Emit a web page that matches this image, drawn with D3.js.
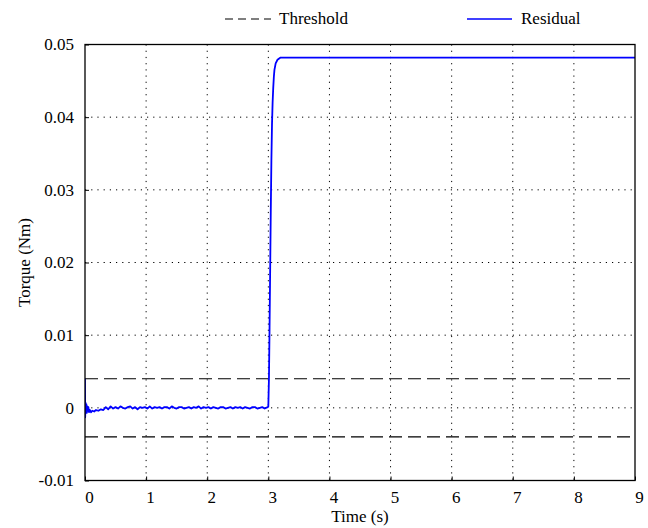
<!DOCTYPE html>
<html>
<head>
<meta charset="utf-8">
<script src="https://cdn.jsdelivr.net/npm/d3@7"></script>
<style>
  body { margin: 0; background: #fff; }
  text { font-family: "Liberation Serif", "Times New Roman", serif; fill: #000; }
</style>
</head>
<body>
<div id="chart"></div>
<script>
const width = 648;
const height = 528;
const margin = { top: 44.5, right: 13, bottom: 47.5, left: 85 };
const serif = "'Liberation Serif', 'Times New Roman', serif";

// axis ticks
const xTicks = [0, 1, 2, 3, 4, 5, 6, 7, 8, 9];
const yTicks = [-0.01, 0, 0.01, 0.02, 0.03, 0.04, 0.05];
const thresholds = [0.004, -0.004];

// residual samples (s, Nm)
const residualT = [
    0, 0.003, 0.008, 0.015, 0.022, 0.03, 0.038, 0.046, 0.055, 0.065, 0.08, 0.1,
    0.12, 0.15, 0.18, 0.22, 0.26, 0.3, 0.34, 0.38, 0.42, 0.46,
    0.5, 0.54, 0.58, 0.62, 0.66, 0.7, 0.74, 0.78, 0.82, 0.86, 0.9, 0.94, 0.98,
    1.02, 1.06, 1.1, 1.14, 1.18, 1.22, 1.26, 1.3, 1.34, 1.38, 1.42, 1.46,
    1.5, 1.54, 1.58, 1.62, 1.66, 1.7, 1.74, 1.78, 1.82, 1.86, 1.9, 1.94, 1.98,
    2.02, 2.06, 2.1, 2.14, 2.18, 2.22, 2.26, 2.3, 2.34, 2.38, 2.42, 2.46,
    2.5, 2.54, 2.58, 2.62, 2.66, 2.7, 2.74, 2.78, 2.82, 2.86, 2.9, 2.94,
    2.99, 3.0, 3.01, 3.02, 3.03, 3.04, 3.05, 3.06, 3.07, 3.08, 3.09, 3.1,
    3.12, 3.15, 3.2, 9
];
const residualV = [
    0.004, -0.0013, 0.0007, -0.0005, 0.0005, -0.0007, 0.0002, -0.0004, 0.0001, -0.0006, -0.0003, -0.0006,
    -0.0004, -0.0005, -0.0003, -0.0004, -0.0002, -0.0003, 0.0001, -0.0002, 0.0002, -0.0001,
    0.0001, -0.0001, 0.0002, 0.0000, -0.0001, 0.0001, 0.0002, -0.0001, 0.0001, -0.0002, 0.0001, 0.0000, 0.0001,
    -0.0001, 0.0002, -0.0001, 0.0001, 0.0000, 0.0001, -0.0001, 0.0001, 0.0001, -0.0001, 0.0002, 0.0000,
    -0.0001, 0.0001, 0.0001, -0.0001, 0.0000, 0.0001, -0.0001, 0.0001, 0.0000, 0.0002, -0.0001, 0.0001, 0.0000,
    0.0001, -0.0001, 0.0001, 0.0000, -0.0001, 0.0001, 0.0001, -0.0001, 0.0000, 0.0001, -0.0001, 0.0001,
    0.0000, 0.0001, -0.0001, 0.0001, 0.0000, -0.0001, 0.0001, 0.0001, -0.0001, 0.0000, 0.0001, -0.0001,
    0.0001, 0.0002, 0.004, 0.011, 0.019, 0.027, 0.034, 0.039, 0.042, 0.044, 0.0455, 0.0465,
    0.0474, 0.0479, 0.0482, 0.0482
];

const legendLabels = ["Threshold", "Residual"];

const iw = width - margin.left - margin.right;
const ih = height - margin.top - margin.bottom;

const svg = d3.select("#chart")
    .append("svg")
    .attr("width", width)
    .attr("height", height);

const x = d3.scaleLinear().domain([0, 9]).range([margin.left, margin.left + iw]);
const y = d3.scaleLinear().domain([-0.01, 0.05]).range([margin.top + ih, margin.top]);

svg.append("defs").append("clipPath")
    .attr("id", "plot-clip")
    .append("rect")
    .attr("x", margin.left)
    .attr("y", margin.top)
    .attr("width", iw)
    .attr("height", ih);

// Grid
svg.append("g")
    .selectAll("line")
    .data(xTicks.slice(1, -1))
    .enter()
    .append("line")
    .attr("x1", d => x(d))
    .attr("x2", d => x(d))
    .attr("y1", margin.top)
    .attr("y2", margin.top + ih)
    .attr("stroke", "#000")
    .attr("stroke-width", 1)
    .attr("stroke-dasharray", "1.2,5");

svg.append("g")
    .selectAll("line")
    .data(yTicks.slice(1, -1))
    .enter()
    .append("line")
    .attr("x1", margin.left)
    .attr("x2", margin.left + iw)
    .attr("y1", d => y(d))
    .attr("y2", d => y(d))
    .attr("stroke", "#000")
    .attr("stroke-width", 1)
    .attr("stroke-dasharray", "1.2,5");

// Axes (inward ticks)
const fmtY = d => d === 0 ? "0" : d.toFixed(2);

svg.append("g")
    .attr("transform", "translate(0," + (margin.top + ih) + ")")
    .call(d3.axisBottom(x).tickValues(xTicks).tickSizeInner(-4).tickSizeOuter(0).tickFormat(d3.format("d")))
    .call(g => g.select(".domain").remove())
    .call(g => g.selectAll("text")
        .attr("dx", 4)
        .attr("y", 10)
        .attr("dy", "0.71em")
        .style("font-family", serif)
        .style("font-size", "17px"));

svg.append("g")
    .attr("transform", "translate(" + margin.left + ",0)")
    .call(d3.axisLeft(y).tickValues(yTicks).tickSizeInner(-4).tickSizeOuter(0).tickFormat(fmtY))
    .call(g => g.select(".domain").remove())
    .call(g => g.selectAll("text")
        .attr("x", -11)
        .style("font-family", serif)
        .style("font-size", "17px"));

// Thresholds
svg.append("g")
    .selectAll("line")
    .data(thresholds)
    .enter()
    .append("line")
    .attr("x1", margin.left)
    .attr("x2", margin.left + iw)
    .attr("y1", d => y(d))
    .attr("y2", d => y(d))
    .attr("stroke", "#000")
    .attr("stroke-width", 1.2)
    .attr("stroke-dasharray", "13,6");

// Residual
const line = d3.line()
    .x(d => x(d[0]))
    .y(d => y(d[1]));

svg.append("path")
    .datum(d3.zip(residualT, residualV))
    .attr("clip-path", "url(#plot-clip)")
    .attr("d", line)
    .attr("fill", "none")
    .attr("stroke", "#0000ff")
    .attr("stroke-width", 1.8)
    .attr("stroke-linejoin", "round");

// Frame
svg.append("rect")
    .attr("x", margin.left)
    .attr("y", margin.top)
    .attr("width", iw)
    .attr("height", ih)
    .attr("fill", "none")
    .attr("stroke", "#000")
    .attr("stroke-width", 1.3);

// Axis labels
svg.append("text")
    .attr("x", margin.left + iw / 2)
    .attr("y", 522)
    .attr("text-anchor", "middle")
    .style("font-size", "17px")
    .text("Time (s)");

svg.append("text")
    .attr("transform", "translate(30," + (margin.top + ih / 2) + ") rotate(-90)")
    .attr("text-anchor", "middle")
    .style("font-size", "17px")
    .text("Torque (Nm)");

// Legend
const legend = svg.append("g");
legend.append("line")
    .attr("x1", 225).attr("x2", 271)
    .attr("y1", 19).attr("y2", 19)
    .attr("stroke", "#000")
    .attr("stroke-width", 1.2)
    .attr("stroke-dasharray", "8,5");
legend.append("text")
    .attr("x", 279).attr("y", 24)
    .style("font-size", "17px")
    .text(legendLabels[0]);
legend.append("line")
    .attr("x1", 467).attr("x2", 512)
    .attr("y1", 19).attr("y2", 19)
    .attr("stroke", "#0000ff")
    .attr("stroke-width", 1.5);
legend.append("text")
    .attr("x", 521).attr("y", 24)
    .style("font-size", "17px")
    .text(legendLabels[1]);
</script>
</body>
</html>
